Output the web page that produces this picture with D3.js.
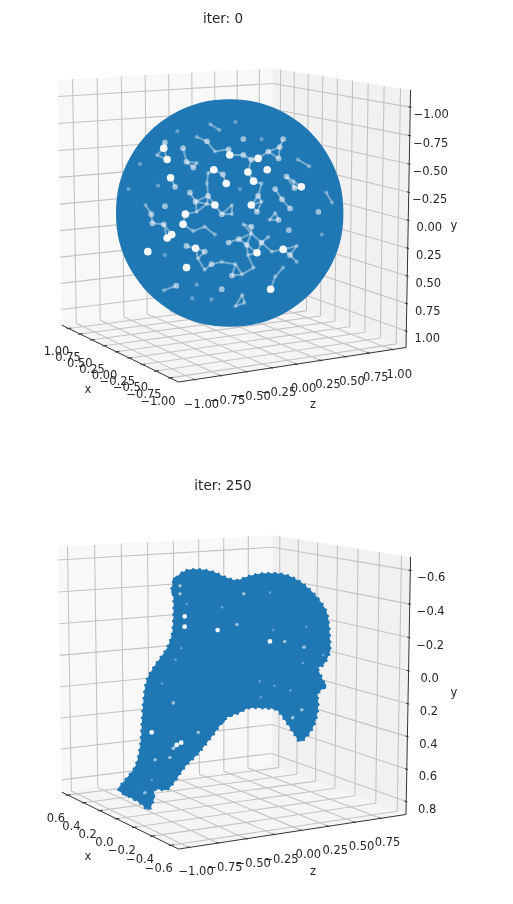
<!DOCTYPE html>
<html><head><meta charset="utf-8">
<script src="https://cdn.jsdelivr.net/npm/d3@7"></script>
<style>html,body{margin:0;padding:0;background:#fff}svg{display:block;filter:blur(0.35px)}text{font-family:"DejaVu Sans";fill:#262626}</style>
</head><body><div id="chart"></div>
<script>
// ---------- values ----------
const titles = ["iter: 0", "iter: 250"];
const xTicks0 = [1, 0.75, 0.5, 0.25, 0, -0.25, -0.5, -0.75, -1];
const yTicks0 = [-1, -0.75, -0.5, -0.25, 0, 0.25, 0.5, 0.75, 1];
const zTicks0 = [-1, -0.75, -0.5, -0.25, 0, 0.25, 0.5, 0.75, 1];
const xTicks1 = [0.6, 0.4, 0.2, 0, -0.2, -0.4, -0.6];
const yTicks1 = [-0.6, -0.4, -0.2, 0, 0.2, 0.4, 0.6, 0.8];
const zTicks1 = [-1, -0.75, -0.5, -0.25, 0, 0.25, 0.5, 0.75];
const xLim0 = [-1.15, 1.15], yLim0 = [-1.15, 1.15], zLim0 = [-1.15, 1.15];
const xLim1 = [-0.68, 0.68], yLim1 = [-0.68, 0.88], zLim1 = [-1.09, 1.0];

// point clouds seen along the view direction: [across, down] in view-plane units
const sphereOutline = [[1,0],[.97,.26],[.87,.5],[.71,.71],[.5,.87],[.26,.97],[0,1],[-.26,.97],[-.5,.87],[-.71,.71],[-.87,.5],[-.97,.26],[-1,0],[-.97,-.26],[-.87,-.5],[-.71,-.71],[-.5,-.87],[-.26,-.97],[0,-1],[.26,-.97],[.5,-.87],[.71,-.71],[.87,-.5],[.97,-.26]];
// gaps between points: [across, down, openness]
const sphereGaps = [[-.17,-.78,1],[-.09,-.73,1],[.05,-.80,1],[-.46,-.72,1],[-.29,-.67,1],[-.20,-.63,2],[.12,-.65,2],[.28,-.65,1],[.47,-.65,2],[.44,-.58,2],[-.57,-.62,2],[-.58,-.57,3],[-.41,-.57,2],[-.13,-.54,1],[-.01,-.56,2],[0,-.51,3],[.12,-.51,2],[.25,-.48,3],[.19,-.47,2],[.34,-.54,2],[.43,-.48,2],[-.64,-.51,1],[-.55,-.47,3],[-.38,-.45,2],[-.29,-.44,1],[-.32,-.40,2],[.60,-.47,1],[.70,-.41,1],[-.14,-.38,3],[-.19,-.35,1],[-.06,-.34,2],[.16,-.36,3],[.33,-.38,3],[-.52,-.31,3],[-.03,-.26,3],[.21,-.28,3],[.28,-.26,1],[.50,-.32,2],[.56,-.28,1],[.63,-.23,3],[.57,-.22,2],[.09,-.21,1],[.40,-.21,2],[-.48,-.23,2],[-.63,-.24,1],[-.20,-.26,1],[-.35,-.18,2],[-.30,-.10,2],[-.19,-.15,2],[.25,-.15,2],[.19,-.07,3],[.24,-.01,2],[.46,-.12,2],[.28,-.10,1],[-.13,-.07,3],[-.07,.01,2],[-.20,-.08,1],[-.57,-.06,2],[-.74,-.07,1],[-.69,.01,2],[-.68,.09,2],[-.39,.01,3],[-.41,.10,3],[-.29,-.01,1],[.02,-.07,1],[.02,.01,1],[.53,-.04,2],[.78,-.01,2],[.40,0,1],[.43,.06,2],[.35,.06,1],[-.58,.10,2],[-.22,.12,1],[-.13,.19,1],[.12,.10,1],[.19,.12,2],[.19,.18,1],[-.51,.19,3],[-.55,.22,3],[-.32,.16,1],[.52,.15,2],[.34,.21,1],[.81,.19,1],[.08,.23,2],[.15,.28,2],[-.01,.26,2],[.28,.26,2],[.24,.35,3],[.16,.37,1],[-.72,.34,3],[-.30,.31,3],[-.38,.29,2],[-.22,.34,2],[.37,.34,1],[.47,.32,3],[.59,.29,1],[.53,.37,2],[.59,.43,1],[-.57,.37,1],[-.28,.40,1],[-.07,.43,1],[.05,.45,1],[-.16,.45,2],[-.38,.48,3],[-.22,.50,1],[.02,.55,2],[.11,.54,1],[.21,.48,1],[.40,.56,1],[.47,.48,1],[-.47,.64,2],[-.29,.63,1],[-.07,.67,2],[.11,.72,1],[.36,.67,3],[-.33,.75,1],[-.58,.68,1],[-.16,.76,1],[.13,.79,1],[.05,.82,1],[-.89,-.21,1],[-.79,-.43,1],[.85,-.18,1],[.90,-.09,1]];

const blobOutline = [[-.459,-.898],[-.371,-.956],[-.254,-.962],[-.137,-.942],[-.035,-.898],[.067,-.868],[.170,-.904],[.287,-.927],[.433,-.927],[.550,-.898],[.667,-.825],[.784,-.708],[.857,-.591],[.877,-.488],[.886,-.371],[.886,-.240],[.828,-.123],[.784,-.094],[.813,-.020],[.842,.067],[.784,.126],[.784,.243],[.754,.389],[.696,.491],[.623,.550],[.579,.491],[.491,.360],[.418,.272],[.316,.257],[.170,.257],[.082,.301],[-.006,.330],[-.064,.389],[-.152,.506],[-.269,.652],[-.386,.769],[-.488,.915],[-.547,.974],[-.649,.974],[-.664,1.061],[-.708,1.149],[-.781,1.091],[-.883,1.032],[-.971,.974],[-.912,.886],[-.825,.769],[-.781,.594],[-.766,.389],[-.751,.184],[-.722,.009],[-.649,-.123],[-.547,-.269],[-.503,-.386],[-.488,-.547],[-.488,-.722],[-.503,-.810]];
const blobEdgePoints = [[-.942,.968],[-.898,1.003],[-.825,1.038],[-.766,1.067],[-.713,1.114],[-.684,1.038],[-.547,.939],[.637,.506],[.828,.061],[-.468,-.868],[-.480,-.766],[-.064,.360],[.009,.307]];
const blobGaps = [[-.43,-.82,2],[-.43,-.75,2],[-.39,-.55,3],[-.39,-.46,3],[-.37,-.66,1],[-.10,-.43,3],[.13,-.75,2],[.07,-.48,2],[-.06,-.63,1],[.36,-.76,1],[.36,-.33,3],[.49,-.33,2],[.68,-.46,1],[.66,-.28,2],[.65,-.14,1],[.39,-.43,1],[-.42,-.27,1],[-.47,-.17,1],[-.59,.04,1],[-.49,.21,2],[-.68,.47,3],[-.27,.47,2],[-.46,.58,3],[-.42,.56,3],[-.49,.61,2],[-.65,.71,2],[-.52,.69,2],[.27,.02,1],[.40,.06,1],[.28,.16,1],[.56,.34,2],[.64,.27,2],[.54,.10,1],[-.74,1.00,2],[-.68,.89,1],[.83,-.21,1]];

// ---------- layout ----------
const W = 513, H = 904;
const panels = [
  {title: titles[0], xT: xTicks0, yT: yTicks0, zT: zTicks0, xL: xLim0, yL: yLim0, zL: zLim0, dy: 0,
   vc: [229.7, 213], fmt: d3.format(".2f"), outline: sphereOutline, edge: [], gaps: sphereGaps, tx: 223, ty: 23, link: 0.125, bump: 0, gapK: 1},
  {title: titles[1], xT: xTicks1, yT: yTicks1, zT: zTicks1, xL: xLim1, yL: yLim1, zL: zLim1, dy: 467,
   vc: [229, 679], fmt: d3.format(".1f"), outline: blobOutline, edge: blobEdgePoints, gaps: blobGaps, tx: 223, ty: 490, link: 0.05, bump: 3, gapK: 0.62}
];
const CX = 229.5, CY = 212, K = 255;
const elev = 10 * Math.PI / 180, azim = -30 * Math.PI / 180, dist = 7;
const n = [Math.cos(azim) * Math.cos(elev), Math.sin(azim) * Math.cos(elev), Math.sin(elev)];
const r = [-Math.sin(azim), Math.cos(azim), 0];
const u = [-Math.cos(azim) * Math.sin(elev), -Math.sin(azim) * Math.sin(elev), Math.cos(elev)];
const dot = (a, b) => a[0] * b[0] + a[1] * b[1] + a[2] * b[2];

const svg = d3.select("#chart").append("svg").attr("width", W).attr("height", H);
const defs = svg.append("defs");
defs.append("filter").attr("id", "soft").attr("filterUnits", "userSpaceOnUse").attr("x", 0).attr("y", 0).attr("width", W).attr("height", H)
  .append("feGaussianBlur").attr("stdDeviation", 0.7);
const viewScale = d3.scaleLinear().domain([-1, 1]).range([-113.7, 113.7]);
const gapR = d3.scaleOrdinal().domain([1, 2, 3]).range([2.1, 2.9, 3.8]);
const gapO = d3.scaleOrdinal().domain([1, 2, 3]).range([0.32, 0.55, 0.95]);
const BLUE = "#1f77b4";

panels.forEach(p => {
  const g = svg.append("g");
  const sx = d3.scaleLinear().domain([-1, 1]).range([CX - K, CX + K]);
  const sy = d3.scaleLinear().domain([-1, 1]).range([CY + p.dy + K, CY + p.dy - K]);
  const proj = (X, Y, Z) => {
    const q = [X - .5, Y - .5, Z - .5], d = dist - dot(q, n);
    return [sx(dot(q, r) * dist / d), sy(dot(q, u) * dist / d)];
  };
  const nx = d3.scaleLinear().domain([p.xL[1], p.xL[0]]).range([0, 1]);
  const nz = d3.scaleLinear().domain(p.zL).range([0, 1]);
  const ny = d3.scaleLinear().domain([p.yL[1], p.yL[0]]).range([0, 1]);
  const line = d3.line();
  const poly = (pts, fill) => g.append("path").attr("d", line(pts.map(a => proj(...a))) + "Z").attr("fill", fill).attr("stroke", "none");
  poly([[0,0,0],[0,1,0],[0,1,1],[0,0,1]], "#f8f8f8");
  poly([[0,1,0],[1,1,0],[1,1,1],[0,1,1]], "#f1f1f1");
  poly([[0,0,0],[1,0,0],[1,1,0],[0,1,0]], "#f5f5f5");
  const seg = (a, b, c, w) => g.append("line").attr("x1", proj(...a)[0]).attr("y1", proj(...a)[1]).attr("x2", proj(...b)[0]).attr("y2", proj(...b)[1]).attr("stroke", c).attr("stroke-width", w);
  const GC = "#c4c4c4", GW = 1.1;
  p.xT.forEach(v => { const t = nx(v); seg([t,1,0],[t,1,1],GC,GW); seg([t,0,0],[t,1,0],GC,GW); });
  p.zT.forEach(v => { const t = nz(v); seg([0,t,0],[0,t,1],GC,GW); seg([0,t,0],[1,t,0],GC,GW); });
  p.yT.forEach(v => { const t = ny(v); seg([0,0,t],[0,1,t],GC,GW); seg([0,1,t],[1,1,t],GC,GW); });
  const AC = "#333";
  seg([0,0,0],[1,0,0],AC,1); seg([1,0,0],[1,1,0],AC,1); seg([1,1,0],[1,1,1],AC,1);
  const fmtZ = d3.format(".2f");
  const lab = (pos, s, dx, dy) => g.append("text").attr("x", pos[0] + dx).attr("y", pos[1] + dy).attr("text-anchor", "middle").attr("dominant-baseline", "central").attr("font-size", 11.5).text(s);
  p.xT.forEach(v => { const t = nx(v); seg([t,-.008,0],[t,.012,0],AC,1); lab(proj(t,0,0), p.fmt(v), -12, 23); });
  p.zT.forEach(v => { const t = nz(v); seg([.988,t,0],[1.008,t,0],AC,1); lab(proj(1,t,0), fmtZ(v), 7, 24); });
  p.yT.forEach(v => { const t = ny(v); seg([.988,1,t],[1.008,1,t],AC,1); lab(proj(1,1,t), p.fmt(v), 21, 7); });
  // points
  const vx = a => p.vc[0] + viewScale(a), vy = a => p.vc[1] + viewScale(a);
  const body = g.append("path").attr("d", d3.line().x(d => vx(d[0])).y(d => vy(d[1])).curve(d3.curveCatmullRomClosed.alpha(0.5))(p.outline)).attr("fill", BLUE);
  if (p.bump) body.attr("stroke", BLUE).attr("stroke-width", p.bump).attr("stroke-linecap", "round").attr("stroke-dasharray", "0 6.5");
  g.selectAll("circle.edge").data(p.edge).join("circle").attr("class", "edge").attr("cx", d => vx(d[0])).attr("cy", d => vy(d[1])).attr("r", 3.2).attr("fill", BLUE);
  const soft = g.append("g").attr("filter", "url(#soft)");
  const links = [];
  p.gaps.forEach((a, i) => p.gaps.forEach((b, j) => { if (j > i && Math.hypot(a[0] - b[0], a[1] - b[1]) < p.link) links.push([a, b]); }));
  soft.selectAll("line").data(links).join("line").attr("x1", d => vx(d[0][0])).attr("y1", d => vy(d[0][1])).attr("x2", d => vx(d[1][0])).attr("y2", d => vy(d[1][1])).attr("stroke", "#fff").attr("stroke-width", 2).attr("opacity", 0.38);
  soft.selectAll("circle").data(p.gaps).join("circle").attr("cx", d => vx(d[0])).attr("cy", d => vy(d[1])).attr("r", d => gapR(d[2]) * p.gapK).attr("fill", "#fff").attr("opacity", d => gapO(d[2]));
  // labels
  g.append("text").attr("x", p.tx).attr("y", p.ty).attr("text-anchor", "middle").attr("font-size", 13.5).text(p.title);
  const al = (x, y, s) => g.append("text").attr("x", x).attr("y", y + p.dy).attr("text-anchor", "middle").attr("dominant-baseline", "central").attr("font-size", 11.5).text(s);
  al(88, 389, "x"); al(313, 404, "z"); al(454, 225, "y");
});
</script></body></html>
